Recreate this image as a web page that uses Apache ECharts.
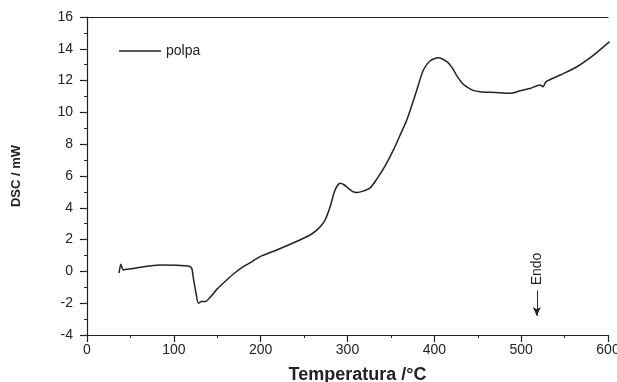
<!DOCTYPE html>
<html>
<head>
<meta charset="utf-8">
<script src="https://cdn.jsdelivr.net/npm/echarts@6/dist/echarts.min.js"></script>
<style>
  html, body { margin: 0; padding: 0; background: #fff; }
  #chart { width: 617px; height: 382px; }
</style>
</head>
<body>
<div id="chart"></div>
<script>
// DSC curve
const tempC = [37, 39, 41.8, 45.7, 60, 84, 105, 116.7, 120.6, 122.5, 125.6, 128.3, 132, 136, 141.7, 150, 160.9, 170, 180, 190, 199.3, 218.5, 240, 256.9, 264.6, 270, 274.2, 280, 285.7, 291.5, 296, 301, 306, 310.6, 318, 326, 333.7, 343, 352.9, 360, 368.3, 375, 379.8, 387.4, 395.2, 404.8, 414.4, 420, 426, 432, 437.4, 444, 452.8, 470, 487.3, 498.8, 510, 521.9, 525, 528.8, 544.9, 564.2, 583.4, 601.8];
const dscMW = [-0.1, 0.45, 0.09, 0.13, 0.25, 0.4, 0.38, 0.34, 0.19, -0.43, -1.38, -2.0, -1.9, -1.9, -1.63, -1.1, -0.54, -0.1, 0.3, 0.62, 0.93, 1.35, 1.85, 2.29, 2.6, 2.9, 3.23, 4.07, 5.12, 5.55, 5.45, 5.22, 5.02, 4.97, 5.05, 5.25, 5.8, 6.6, 7.64, 8.5, 9.52, 10.6, 11.41, 12.67, 13.25, 13.44, 13.19, 12.85, 12.3, 11.85, 11.6, 11.4, 11.3, 11.25, 11.2, 11.36, 11.5, 11.72, 11.62, 11.93, 12.35, 12.87, 13.6, 14.45];
const seriesName = "polpa";
const xTicks = [0, 100, 200, 300, 400, 500, 600];
const yTicks = [-4, -2, 0, 2, 4, 6, 8, 10, 12, 14, 16];
const endoArrow = [[518, -1.2], [518, -2.8]];

const font = "Liberation Sans, Arial, sans-serif";
const chart = echarts.init(document.getElementById("chart"));

const axisStyle = {
  axisLine: { onZero: false, lineStyle: { color: "#222", width: 1.2 } },
  axisTick: { length: 7, lineStyle: { color: "#222", width: 1.2 } },
  minorTick: { show: true, splitNumber: 2, length: 3, lineStyle: { color: "#222", width: 1 } },
  axisLabel: { color: "#222", fontSize: 14, fontFamily: font },
  splitLine: { show: false }
};

chart.setOption({
  animation: false,
  backgroundColor: "#fff",
  grid: { left: 87, right: 9, top: 17, bottom: 47, outerBoundsMode: "none" },
  legend: {
    left: 114,
    top: 39,
    icon: "rect",
    itemWidth: 42,
    itemHeight: 1.5,
    itemGap: 6,
    data: [seriesName],
    textStyle: { color: "#222", fontSize: 14, fontFamily: font }
  },
  xAxis: [
    {
      type: "value",
      min: xTicks[0],
      max: xTicks[xTicks.length - 1],
      interval: 100,
      name: "Temperatura /°C",
      nameLocation: "middle",
      nameGap: 31,
      nameTextStyle: { color: "#222", fontSize: 18, fontWeight: "bold", fontFamily: font, padding: [0, 0, 0, 20] },
      ...axisStyle,
      axisLabel: { ...axisStyle.axisLabel, margin: 8 }
    },
    {
      type: "value",
      position: "top",
      min: xTicks[0],
      max: xTicks[xTicks.length - 1],
      axisLine: { show: true, onZero: false, lineStyle: { color: "#222", width: 1.2 } },
      axisTick: { show: false },
      axisLabel: { show: false },
      splitLine: { show: false }
    }
  ],
  yAxis: {
    type: "value",
    min: yTicks[0],
    max: yTicks[yTicks.length - 1],
    interval: 2,
    name: "DSC / mW",
    nameLocation: "middle",
    nameGap: 64,
    nameTextStyle: { color: "#222", fontSize: 13, fontWeight: "bold", fontFamily: font },
    ...axisStyle,
    axisLabel: { ...axisStyle.axisLabel, margin: 14 }
  },
  series: [
    {
      name: seriesName,
      type: "line",
      symbol: "none",
      smooth: 0.25,
      lineStyle: { color: "#222", width: 1.5 },
      itemStyle: { color: "#222" },
      data: tempC.map((t, i) => [t, dscMW[i]]),
      markLine: {
        silent: true,
        symbol: ["none", "arrow"],
        symbolSize: [6, 9],
        label: { show: false },
        lineStyle: { color: "#222", width: 1, type: "solid" },
        data: [[{ coord: endoArrow[0] }, { coord: endoArrow[1] }]]
      }
    }
  ],
  graphic: [
    {
      type: "text",
      x: 537,
      y: 269,
      rotation: Math.PI / 2,
      style: {
        text: "Endo",
        fill: "#222",
        font: "14px " + font,
        align: "center",
        verticalAlign: "middle"
      }
    }
  ]
});
</script>
</body>
</html>
